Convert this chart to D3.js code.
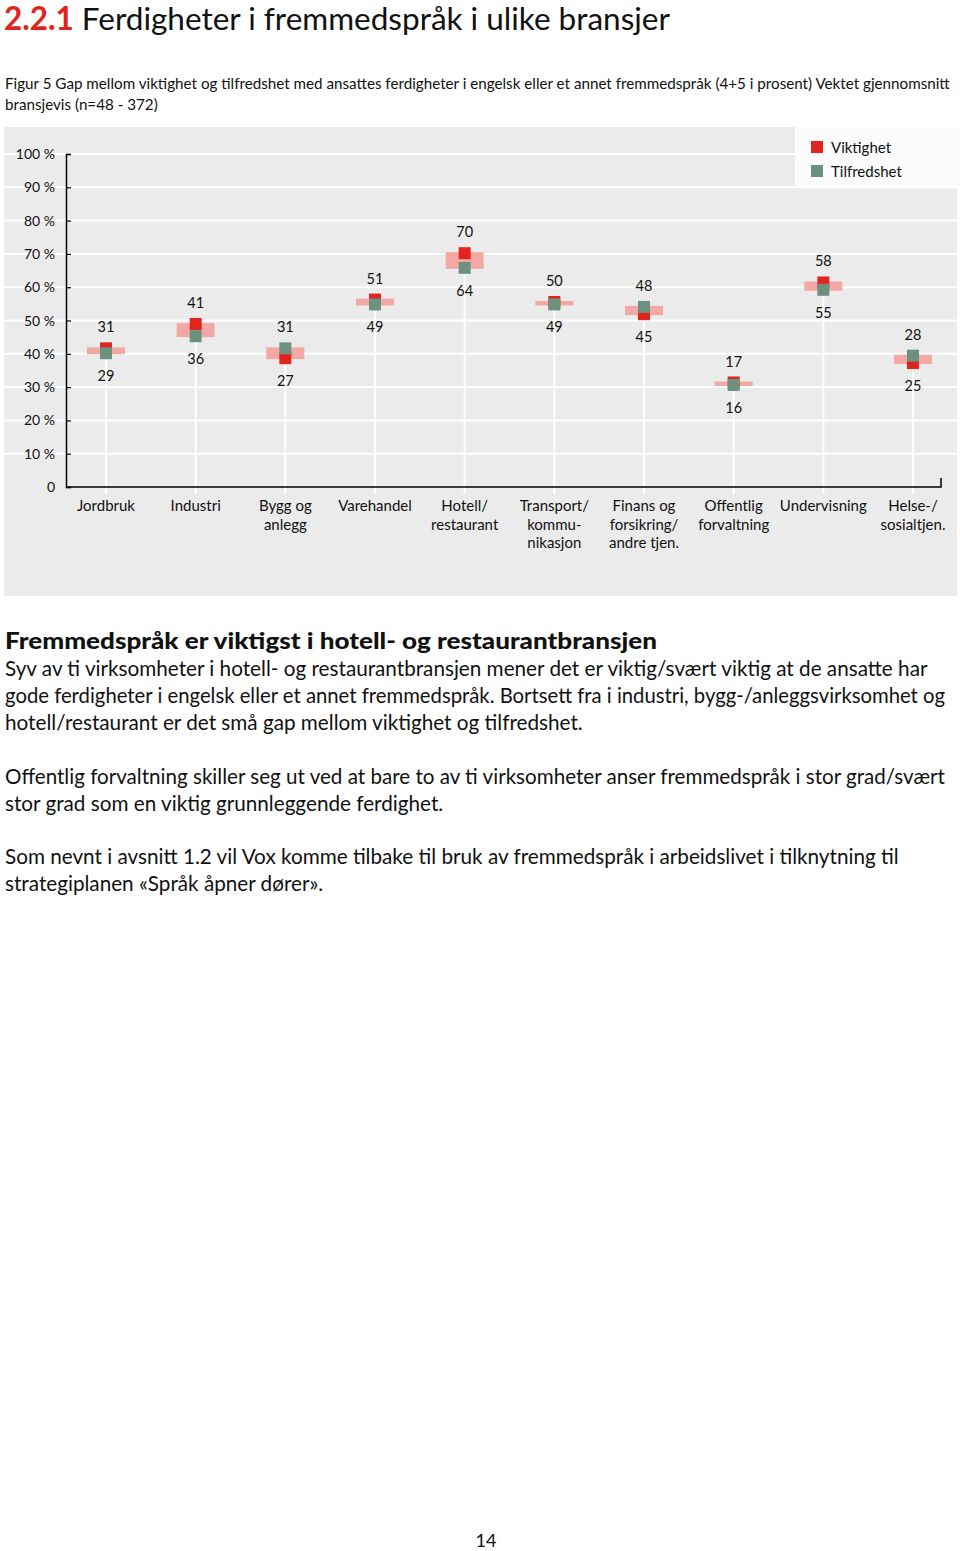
<!DOCTYPE html>
<html>
<head>
<meta charset="utf-8">
<script src="https://cdn.jsdelivr.net/npm/d3@7"></script>
<style>
  body { margin: 0; background: #fff; }
  svg text { font-family: Lato, "Open Sans", sans-serif; fill: #111; }
</style>
</head>
<body>
<div id="chart"></div>
<script>
// chart data
var categories = [
  ["Jordbruk"], ["Industri"], ["Bygg og", "anlegg"], ["Varehandel"],
  ["Hotell/", "restaurant"], ["Transport/", "kommu-", "nikasjon"],
  ["Finans og", "forsikring/", "andre tjen."], ["Offentlig", "forvaltning"],
  ["Undervisning"], ["Helse-/", "sosialtjen."]
];
var viktighet   = [31, 41, 27, 51, 70, 50, 45, 17, 58, 25];
var tilfredshet = [29, 36, 31, 49, 64, 49, 48, 16, 55, 28];
var yTicks = [0, 10, 20, 30, 40, 50, 60, 70, 80, 90, 100];
var seriesNames = ["Viktighet", "Tilfredshet"];

var bodyLines = [
  "Syv av ti virksomheter i hotell- og restaurantbransjen mener det er viktig/svært viktig at de ansatte har",
  "gode ferdigheter i engelsk eller et annet fremmedspråk. Bortsett fra i industri, bygg-/anleggsvirksomhet og",
  "hotell/restaurant er det små gap mellom viktighet og tilfredshet.",
  "",
  "Offentlig forvaltning skiller seg ut ved at bare to av ti virksomheter anser fremmedspråk i stor grad/svært",
  "stor grad som en viktig grunnleggende ferdighet.",
  "",
  "Som nevnt i avsnitt 1.2 vil Vox komme tilbake til bruk av fremmedspråk i arbeidslivet i tilknytning til",
  "strategiplanen «Språk åpner dører»."
];

var RED = "#e2231e", GREEN = "#6d917f", PINK = "#f3a8a5";

var width = 960, height = 1551;
var svg = d3.select("#chart").append("svg")
    .attr("width", width)
    .attr("height", height);

// title
var title = svg.append("text").attr("x", 4).attr("y", 30).style("font-size", "31.5px");
title.append("tspan").text("2.2.1").style("fill", RED).style("font-weight", "bold");
title.append("tspan").text(" Ferdigheter i fremmedspråk i ulike bransjer");

svg.append("text").attr("x", 5).attr("y", 89).style("font-size", "15.2px")
    .text("Figur 5  Gap mellom viktighet og tilfredshet med ansattes ferdigheter i engelsk eller et annet fremmedspråk (4+5 i prosent) Vektet gjennomsnitt");
svg.append("text").attr("x", 5).attr("y", 110).style("font-size", "15.2px")
    .text("bransjevis (n=48 - 372)");

// panel
svg.append("rect").attr("x", 4).attr("y", 127).attr("width", 953).attr("height", 469)
    .attr("fill", "#ebebeb");

var x = d3.scalePoint().domain(d3.range(categories.length)).range([106, 913]);
var y = d3.scaleLinear().domain([0, 100]).range([487, 154]);
// markers sit on their own value scale in the original figure
var yMark = d3.scaleLinear().domain([0, 100]).range([424, 180]);

// gridlines
svg.append("g").selectAll("line").data(yTicks.slice(1)).enter().append("line")
    .attr("x1", 4).attr("x2", 957)
    .attr("y1", function(d) { return y(d); })
    .attr("y2", function(d) { return y(d); })
    .attr("stroke", "#fff").attr("stroke-width", 2);

// legend box
var legend = svg.append("g");
legend.append("rect").attr("x", 795).attr("y", 127).attr("width", 165).attr("height", 59).attr("fill", "#fbfbfb");
legend.selectAll("rect.key").data(seriesNames).enter().append("rect")
    .attr("class", "key")
    .attr("x", 811).attr("y", function(d, i) { return 141 + i * 24; })
    .attr("width", 12).attr("height", 12)
    .attr("fill", function(d, i) { return i == 0 ? RED : GREEN; });
legend.selectAll("text").data(seriesNames).enter().append("text")
    .attr("x", 831).attr("y", function(d, i) { return 153 + i * 24; })
    .style("font-size", "15px")
    .text(function(d) { return d; });

// y axis
var yAxis = d3.axisRight(y).tickValues(yTicks).tickSize(5).tickFormat("");
var yg = svg.append("g").attr("transform", "translate(66,0)").call(yAxis);
yg.select(".domain").attr("stroke", "#000").attr("stroke-width", 1.5);
yg.selectAll(".tick line").attr("stroke", "#000").attr("stroke-width", 1.2);
svg.append("g").selectAll("text").data(yTicks).enter().append("text")
    .attr("x", 55).attr("y", function(d) { return y(d) + 5; })
    .attr("text-anchor", "end")
    .style("font-size", "14px")
    .text(function(d) { return d == 0 ? "0" : d + " %"; });

var rows = categories.map(function(c, i) {
  return { i: i, v: viktighet[i], t: tilfredshet[i],
           hi: Math.max(viktighet[i], tilfredshet[i]), lo: Math.min(viktighet[i], tilfredshet[i]) };
});

// drop lines
svg.append("g").selectAll("line").data(rows).enter().append("line")
    .attr("x1", function(d) { return x(d.i); }).attr("x2", function(d) { return x(d.i); })
    .attr("y1", function(d) { return yMark(d.lo); }).attr("y2", 494)
    .attr("stroke", "#fff").attr("stroke-width", 2);

// x axis
svg.append("path")
    .attr("d", "M66," + y(0) + "H941V" + (y(0) - 9))
    .attr("fill", "none").attr("stroke", "#000").attr("stroke-width", 1.5);

// gap bars
svg.append("g").selectAll("rect").data(rows).enter().append("rect")
    .attr("x", function(d) { return x(d.i) - 19; })
    .attr("width", 38)
    .attr("y", function(d) { return yMark(d.hi) - 1; })
    .attr("height", function(d) { return Math.max(3, yMark(d.lo) - yMark(d.hi) + 2); })
    .attr("fill", PINK);

// markers: viktighet then tilfredshet on top
var mk = svg.append("g");
mk.selectAll("rect.v").data(rows).enter().append("rect")
    .attr("x", function(d) { return x(d.i) - 6; })
    .attr("y", function(d) { return yMark(d.v) - 6; })
    .attr("width", 12).attr("height", 12).attr("fill", RED);
mk.selectAll("rect.t").data(rows).enter().append("rect")
    .attr("x", function(d) { return x(d.i) - 6; })
    .attr("y", function(d) { return yMark(d.t) - 6; })
    .attr("width", 12).attr("height", 12).attr("fill", GREEN);

// value labels
var lab = svg.append("g").attr("text-anchor", "middle").style("font-size", "14.5px");
lab.selectAll("text.hi").data(rows).enter().append("text")
    .attr("x", function(d) { return x(d.i); })
    .attr("y", function(d) { return yMark(d.hi) - 16; })
    .text(function(d) { return d.hi; });
lab.selectAll("text.lo").data(rows).enter().append("text")
    .attr("x", function(d) { return x(d.i); })
    .attr("y", function(d) { return yMark(d.lo) + 28; })
    .text(function(d) { return d.lo; });

// category labels
var cat = svg.append("g").attr("text-anchor", "middle").style("font-size", "15px");
cat.selectAll("text").data(categories).enter().append("text")
    .attr("x", function(d, i) { return x(i); })
    .attr("y", 511)
    .each(function(d, i) {
      var t = d3.select(this);
      d.forEach(function(line, k) {
        t.append("tspan").attr("x", x(i)).attr("dy", k == 0 ? 0 : 18.5).text(line);
      });
    });

// body text
svg.append("text").attr("x", 5).attr("y", 649)
    .style("font-size", "22px").style("font-weight", "900")
    .attr("textLength", 652).attr("lengthAdjust", "spacingAndGlyphs")
    .text("Fremmedspråk er viktigst i hotell- og restaurantbransjen");
svg.append("g").selectAll("text").data(bodyLines).enter().append("text")
    .attr("x", 5).attr("y", function(d, i) { return 676 + i * 26.9; })
    .style("font-size", "20.7px")
    .text(function(d) { return d; })
    .each(function() {
      // shrink lines that would run past the page edge
      var len = this.getComputedTextLength();
      if (len > 940) d3.select(this).style("font-size", (20.7 * 940 / len) + "px");
    });

svg.append("text").attr("x", 486).attr("y", 1547).attr("text-anchor", "middle")
    .style("font-size", "18px").text("14");
</script>
</body>
</html>
